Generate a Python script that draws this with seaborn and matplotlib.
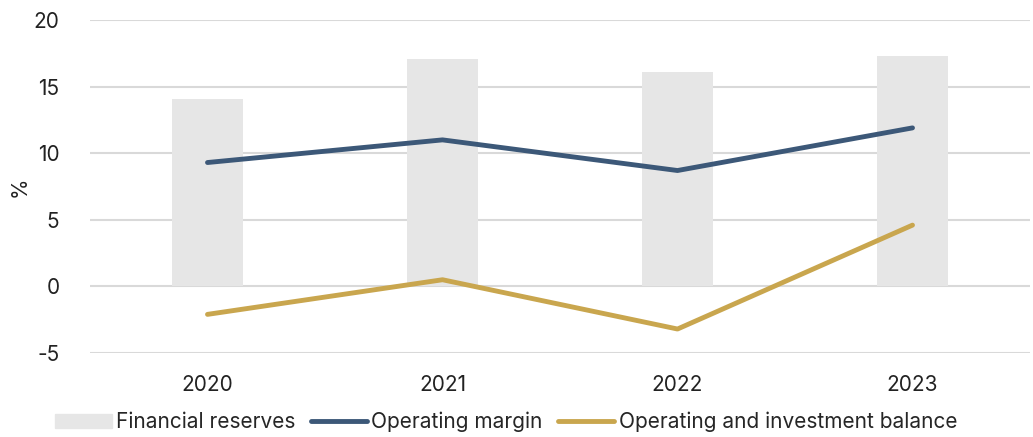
import matplotlib
matplotlib.use("Agg")
import matplotlib.pyplot as plt
import seaborn as sns
import pandas as pd
from matplotlib.patches import Patch
from matplotlib.lines import Line2D

years = ["2020", "2021", "2022", "2023"]
financial_reserves = [14.1, 17.1, 16.1, 17.3]
operating_margin = [9.3, 11.0, 8.7, 11.9]
op_invest_balance = [-2.1, 0.5, -3.2, 4.6]

sns.set_theme(style="white")
plt.rcParams["font.family"] = ["Inter", "DejaVu Sans"]
plt.rcParams["axes.unicode_minus"] = False

fig = plt.figure(figsize=(10.33, 4.37), dpi=100)
ax = fig.add_axes([90/1033, 1 - 353/437, 940/1033, 333/437])

df = pd.DataFrame({"year": years, "reserves": financial_reserves,
                   "margin": operating_margin, "balance": op_invest_balance})

sns.barplot(data=df, x="year", y="reserves", color="#E6E6E6", width=0.3,
            saturation=1, linewidth=0, ax=ax, zorder=2)
sns.lineplot(x=range(len(years)), y=operating_margin, color="#3C5878", lw=3.5,
             ax=ax, zorder=3, solid_capstyle="round")
sns.lineplot(x=range(len(years)), y=op_invest_balance, color="#C9A64E", lw=3.5,
             ax=ax, zorder=3, solid_capstyle="round")

ax.set_xlim(-0.5, 3.5)
ax.set_ylim(-5, 20)
ax.set_yticks([-5, 0, 5, 10, 15, 20])
ax.yaxis.grid(True, color="#D9D9D9", lw=1.5, zorder=0)
ax.set_axisbelow(True)
for s in ax.spines.values():
    s.set_visible(False)
ax.set_xlabel("")
ax.set_ylabel("%", fontsize=15, color="#222222")
ax.yaxis.set_label_coords(-60/940, 0.5)
ax.tick_params(axis="both", labelsize=15, colors="#222222", length=0)
ax.tick_params(axis="x", pad=16)
ax.tick_params(axis="y", pad=22)

handles = [Patch(color="#E6E6E6", label="Financial reserves"),
           Line2D([], [], color="#3C5878", lw=3.5, label="Operating margin"),
           Line2D([], [], color="#C9A64E", lw=3.5, label="Operating and investment balance")]
fig.legend(handles=handles, loc="center", bbox_to_anchor=(0.49, 1 - 422/437),
           ncol=3, frameon=False, fontsize=15, handlelength=2.7, handletextpad=0.2,
           columnspacing=0.75)

fig.savefig("out.png", dpi=100)
